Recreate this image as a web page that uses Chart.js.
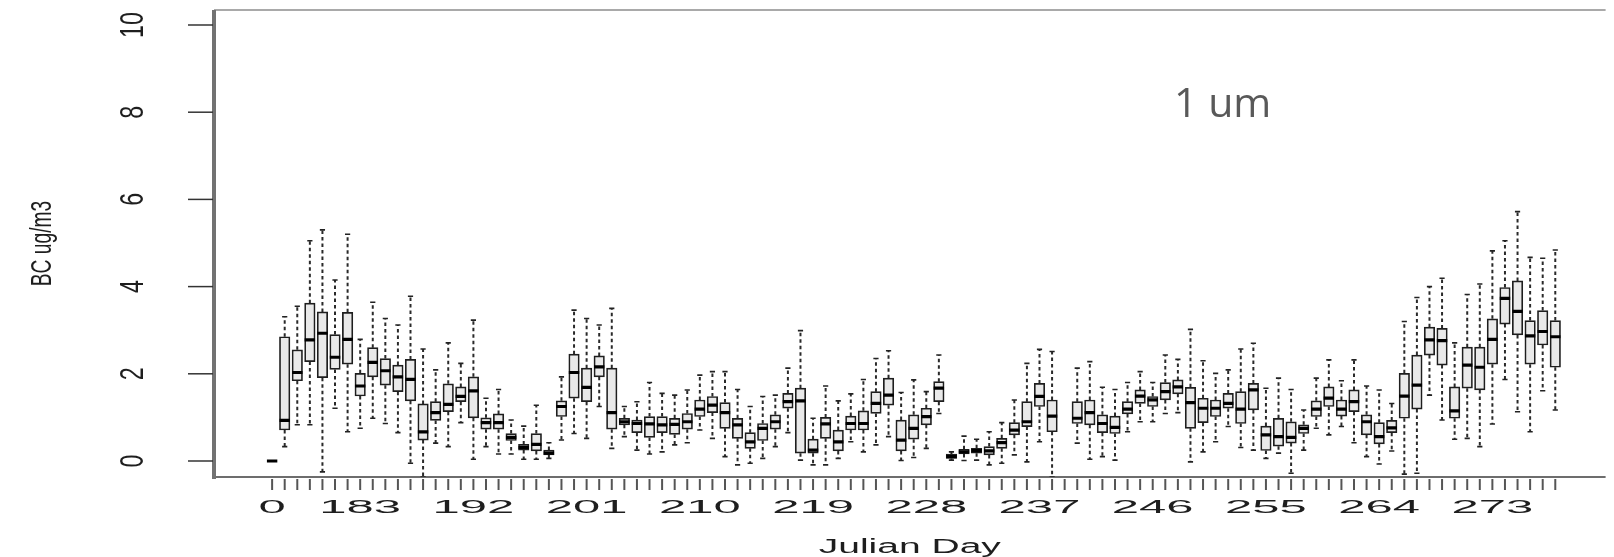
<!DOCTYPE html>
<html><head><meta charset="utf-8">
<script src="https://cdn.jsdelivr.net/npm/chart.js@4.4.1/dist/chart.umd.min.js"></script>
<style>html,body{margin:0;padding:0;background:#fff;overflow:hidden}canvas{display:block}</style>
</head><body>
<canvas id="c" width="1614" height="557"></canvas>
<script>
// Julian day categories (one box per day)
const days = ['0','177','178','179','180','181','182','183','184','185','186','187','188','189','190','191','192','193','194','195','196','197','198','199','200','201','202','203','204','205','206','207','208','209','210','211','212','213','214','215','216','217','218','219','220','221','222','223','224','225','226','227','228','229','230','231','232','233','234','235','236','237','238','239','240','241','242','243','244','245','246','247','248','249','250','251','252','253','254','255','256','257','258','259','260','261','262','263','264','265','266','267','268','269','270','271','272','273','274','275','276','277','278'];
const tickLabels = ['0','183','192','201','210','219','228','237','246','255','264','273'];
const yTicks = [0,2,4,6,8,10];

const whiskerHigh = [0,3.31,3.55,5.05,5.3,4.15,5.2,2.79,3.64,3.27,3.12,3.78,2.57,2.09,2.71,2.24,3.23,1.44,1.64,0.94,0.8,1.28,0.42,1.93,3.46,3.27,3.12,3.5,1.25,1.36,1.8,1.55,1.51,1.63,1.97,2.05,2.05,1.64,1.25,1.48,1.51,2.13,2.99,0.98,1.72,1.38,1.54,1.87,2.35,2.53,1.57,1.86,1.59,2.43,0.21,0.57,0.5,0.67,0.88,1.4,2.24,2.56,2.51,null,2.13,2.28,1.69,1.64,1.8,2.05,1.8,2.43,2.33,3.02,2.3,2.01,2.09,2.57,2.7,1.67,1.9,1.64,1.17,1.9,2.32,1.84,2.32,1.72,1.63,1.32,3.2,3.75,4.0,4.19,2.71,3.82,4.06,4.82,5.05,5.72,4.67,4.65,4.84];
const upperQuartile = [0,2.85,2.55,3.62,3.42,2.9,3.41,2.01,2.6,2.35,2.2,2.33,1.31,1.36,1.77,1.7,1.93,0.99,1.08,0.63,0.38,0.63,0.25,1.38,2.45,2.13,2.41,2.13,0.98,0.94,1.02,1.02,0.98,1.09,1.4,1.48,1.34,0.98,0.65,0.86,1.06,1.55,1.67,0.5,1.0,0.71,1.03,1.15,1.59,1.9,0.94,1.06,1.21,1.82,0.16,0.27,0.29,0.33,0.52,0.88,1.36,1.78,1.4,null,1.36,1.4,1.06,1.03,1.36,1.63,1.48,1.8,1.86,1.69,1.44,1.4,1.55,1.59,1.78,0.8,0.98,0.9,0.83,1.38,1.7,1.4,1.63,1.06,0.88,0.93,2.01,2.43,3.07,3.04,1.7,2.61,2.61,3.26,3.98,4.13,3.22,3.45,3.22];
const median = [0,0.93,2.03,2.78,2.93,2.38,2.79,1.72,2.26,2.07,1.93,1.87,0.67,1.11,1.3,1.48,1.61,0.88,0.88,0.54,0.31,0.38,0.18,1.25,2.03,1.69,2.16,1.11,0.9,0.86,0.85,0.83,0.84,0.9,1.19,1.28,1.11,0.83,0.44,0.75,0.9,1.36,1.38,0.25,0.85,0.44,0.86,0.86,1.32,1.51,0.48,0.75,1.02,1.67,0.1,0.21,0.24,0.23,0.42,0.71,0.9,1.48,1.03,null,0.98,1.11,0.86,0.77,1.19,1.49,1.4,1.59,1.7,1.34,1.21,1.21,1.32,1.19,1.63,0.6,0.56,0.54,0.75,1.19,1.44,1.19,1.36,0.9,0.56,0.76,1.49,1.74,2.78,2.76,1.15,2.2,2.15,2.79,3.73,3.43,2.87,2.97,2.85];
const lowerQuartile = [0,0.71,1.84,2.28,1.91,2.1,2.22,1.49,1.93,1.74,1.59,1.38,0.48,0.93,1.13,1.36,0.99,0.73,0.73,0.47,0.25,0.23,0.14,1.02,1.44,1.36,1.93,0.73,0.83,0.65,0.54,0.65,0.61,0.73,1.02,1.11,0.75,0.52,0.29,0.47,0.73,1.21,0.18,0.18,0.52,0.23,0.71,0.71,1.09,1.28,0.23,0.5,0.83,1.36,0.06,0.16,0.18,0.14,0.29,0.6,0.79,1.25,0.67,null,0.86,0.83,0.65,0.63,1.08,1.32,1.25,1.4,1.54,0.75,0.88,1.02,1.21,0.86,1.17,0.24,0.34,0.41,0.63,1.02,1.25,1.03,1.13,0.6,0.39,0.65,0.98,1.19,2.43,2.2,0.98,1.67,1.63,2.22,3.14,2.89,2.22,2.66,2.15];
const whiskerLow = [0,0.33,0.83,0.83,-0.25,1.21,0.67,0.75,0.98,0.86,0.65,-0.05,-0.36,0.41,0.33,0.88,0.04,0.33,0.16,0.16,0.04,0.04,0.06,0.48,0.63,0.52,1.25,0.29,0.56,0.25,0.16,0.21,0.37,0.42,0.71,0.52,0.1,-0.09,-0.05,0.06,0.33,0.65,0.02,-0.09,-0.09,0.06,0.44,0.21,0.37,0.56,0.01,0.08,0.29,1.09,0.02,0.01,0.02,-0.09,-0.05,0.14,-0.02,0.44,-0.36,null,0.41,0.04,0.1,0.02,0.67,0.9,0.9,1.09,1.11,-0.02,0.21,0.44,0.79,0.31,0.25,0.06,0.18,-0.28,0.25,0.75,0.6,0.79,0.42,0.1,-0.07,0.23,-0.3,-0.28,1.51,0.94,0.5,0.52,0.33,0.85,1.87,1.13,0.67,1.61,1.17];

// ---- build library datasets from the arrays ----
const boxData = [], medData = [], capData = [], whiskerData = [];
days.forEach((d, i) => {
  if (median[i] === null) return;
  boxData.push({x: i, y: [lowerQuartile[i], upperQuartile[i]]});
  medData.push({x: i, y: median[i]});
  capData.push({x: i, y: whiskerHigh[i]}, {x: i, y: whiskerLow[i]});
  whiskerData.push({x: i, y: upperQuartile[i]}, {x: i, y: whiskerHigh[i]}, {x: i, y: null},
                   {x: i, y: lowerQuartile[i]}, {x: i, y: whiskerLow[i]}, {x: i, y: null});
});

function drawText(ctx, str, x, y, o) {
  ctx.save();
  ctx.translate(x, y);
  if (o.rot) ctx.rotate(o.rot);
  ctx.scale(o.sx || 1, o.sy || 1);
  ctx.font = o.font;
  ctx.fillStyle = o.color || '#222';
  ctx.textAlign = o.align || 'center';
  ctx.textBaseline = 'alphabetic';
  ctx.fillText(str, 0, 0);
  ctx.restore();
}
function seg(ctx, x1, y1, x2, y2) { ctx.beginPath(); ctx.moveTo(x1, y1); ctx.lineTo(x2, y2); ctx.stroke(); }

const axesPlugin = {
  id: 'rAxes',
  afterDatasetsDraw(chart) {
    const {ctx, chartArea: a, scales: {x, y}} = chart;
    ctx.save();
    // frame
    ctx.strokeStyle = '#8c8c8c'; ctx.lineWidth = 1.5; seg(ctx, a.left, a.top, a.right, a.top);
    ctx.strokeStyle = '#3c3c3c'; ctx.lineWidth = 1.6; seg(ctx, a.left, a.bottom, a.right, a.bottom);
    ctx.strokeStyle = '#727272'; ctx.lineWidth = 4; seg(ctx, a.left, a.top, a.left, a.bottom + 2);
    // y ticks + labels
    ctx.strokeStyle = '#333'; ctx.lineWidth = 1.5;
    yTicks.forEach(v => {
      const py = y.getPixelForValue(v);
      seg(ctx, a.left - 26, py, a.left - 1, py);
      drawText(ctx, String(v), a.left - 71, py, {font: '31px "Liberation Sans"', rot: -Math.PI/2, sx: 0.75, sy: 1.05, color: '#1e1e1e'});
    });
    // x ticks at every category
    ctx.strokeStyle = '#555'; ctx.lineWidth = 2;
    days.forEach((d, i) => {
      const px = x.getPixelForValue(i);
      seg(ctx, px, a.bottom + 2, px, a.bottom + 13);
    });
    tickLabels.forEach(t => {
      const i = days.indexOf(t);
      drawText(ctx, t, x.getPixelForValue(i), a.bottom + 36, {font: '17.5px "Liberation Sans"', sx: 2.8, color: '#1e1e1e'});
    });
    // axis titles
    drawText(ctx, 'Julian Day', (a.left + a.right) / 2, a.bottom + 76, {font: '19.5px "Liberation Sans"', sx: 2.0, color: '#1e1e1e'});
    drawText(ctx, 'BC ug/m3', a.left - 163, (a.top + a.bottom) / 2, {font: '26px "Liberation Sans"', rot: -Math.PI/2, sx: 0.74, sy: 1.1, color: '#1e1e1e'});
    // annotation
    drawText(ctx, '1 um', x.getPixelForValue(71.7), y.getPixelForValue(7.9), {font: '41px "Open Sans"', align: 'left', color: '#595959'});
    ctx.restore();
  }
};

new Chart(document.getElementById('c'), {
  type: 'bar',
  data: {
    datasets: [
      {type: 'line', data: whiskerData, borderColor: '#2a2a2a', borderWidth: 2, borderDash: [3.5, 3],
       pointRadius: 0, spanGaps: false, tension: 0, fill: false, order: 4},
      {type: 'bar', data: boxData, backgroundColor: '#e9e9e9', borderColor: '#1e1e1e', borderWidth: 1.7,
       borderSkipped: false, barThickness: 10.5, order: 3},
      {type: 'scatter', data: capData, pointStyle: 'line', pointRadius: 2.6, borderColor: '#222', borderWidth: 1.6, order: 2},
      {type: 'scatter', data: medData, pointStyle: 'line', pointRadius: 5.2, borderColor: '#000', borderWidth: 3.2, order: 1}
    ]
  },
  options: {
    responsive: false, animation: false, devicePixelRatio: 1,
    layout: {padding: {left: 214, top: 10, right: 0, bottom: 80}},
    plugins: {legend: {display: false}, tooltip: {enabled: false}},
    scales: {
      x: {type: 'linear', min: -4.62, max: 106.0, offset: false, display: false, grid: {offset: false}},
      y: {type: 'linear', min: -0.367, max: 10.344, display: false}
    }
  },
  plugins: [axesPlugin]
});
</script>
</body></html>
